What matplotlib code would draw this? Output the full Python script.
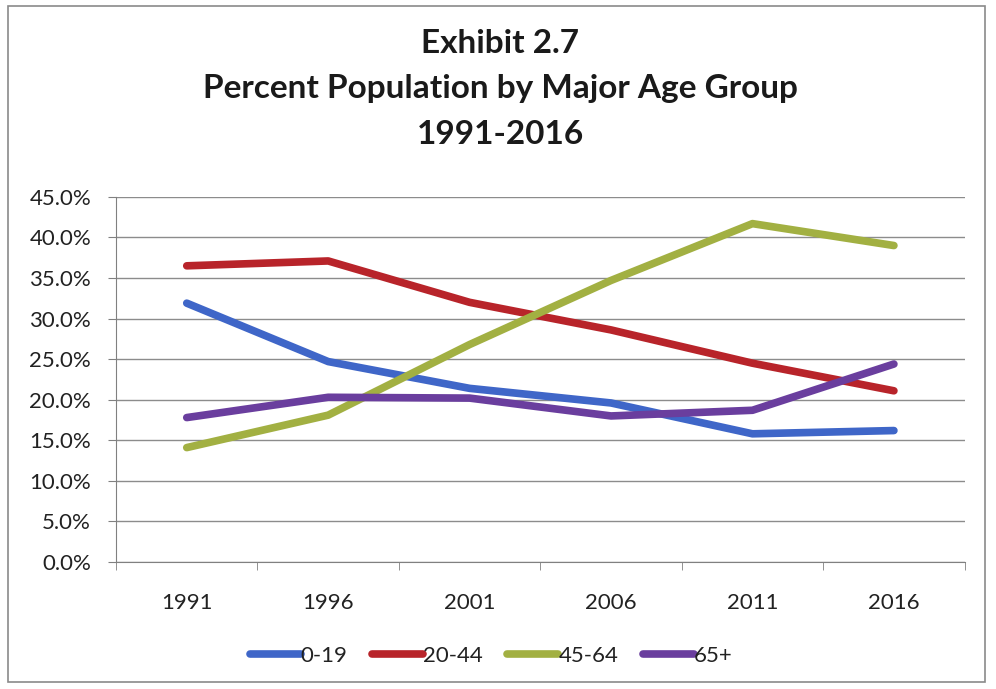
import matplotlib.pyplot as plt
from matplotlib.patches import Rectangle
from matplotlib.ticker import FuncFormatter, FixedLocator

plt.rcParams["font.family"] = ["Lato", "DejaVu Sans"]

years = ["1991", "1996", "2001", "2006", "2011", "2016"]
age_0_19 = [31.9, 24.7, 21.4, 19.6, 15.8, 16.2]
age_20_44 = [36.5, 37.1, 32.0, 28.6, 24.5, 21.1]
age_45_64 = [14.1, 18.1, 26.8, 34.7, 41.7, 39.0]
age_65_plus = [17.8, 20.3, 20.2, 18.0, 18.7, 24.4]

series = [
    ("0-19", age_0_19, "#3f66c8"),
    ("20-44", age_20_44, "#b8242a"),
    ("45-64", age_45_64, "#a2b042"),
    ("65+", age_65_plus, "#6a3e9e"),
]

fig = plt.figure(figsize=(9.96, 6.89), dpi=100)
fig.patches.append(Rectangle((0.008, 0.010), 0.981, 0.982, transform=fig.transFigure,
                             fill=False, edgecolor="#8a8a8a", linewidth=1.2))
ax = fig.add_axes([0.1165, 0.1843, 0.852, 0.530])

x = list(range(len(years)))
for name, vals, col in series:
    ax.plot(x, vals, color=col, linewidth=5.5, solid_capstyle="round",
            solid_joinstyle="round", label=name)

ax.set_ylim(0, 45)
ax.set_yticks(range(0, 50, 5))
ax.yaxis.set_major_formatter(FuncFormatter(lambda v, p: f"{v:.1f}%"))
ax.set_xlim(-0.5, len(years) - 0.5)
ax.set_xticks(x)
ax.set_xticklabels(years)
ax.xaxis.set_minor_locator(FixedLocator([i - 0.5 for i in range(len(years) + 1)]))
ax.tick_params(axis="x", which="major", length=0, pad=22, labelsize=16, colors="#222222")
ax.tick_params(axis="x", which="minor", length=6, color="#808080", direction="out")
ax.tick_params(axis="y", length=6, color="#808080", labelsize=16, pad=12,
               labelcolor="#222222")
ax.grid(axis="y", color="#8c8c8c", linewidth=1)
ax.set_axisbelow(True)
for s in ["top", "right"]:
    ax.spines[s].set_visible(False)
for s in ["left", "bottom"]:
    ax.spines[s].set_color("#808080")

fig.text(0.502, 0.958, "Exhibit 2.7\nPercent Population by Major Age Group\n1991-2016",
         ha="center", va="top", fontsize=24, fontweight="bold", color="#1a1a1a",
         linespacing=1.68)

leg = fig.legend(loc="center", bbox_to_anchor=(0.493, 0.048), ncol=4, frameon=False,
                 fontsize=16, handlelength=2.3, handletextpad=0.0, columnspacing=1.1)
for t in leg.get_texts():
    t.set_color("#222222")

fig.savefig("out.png", dpi=100)
